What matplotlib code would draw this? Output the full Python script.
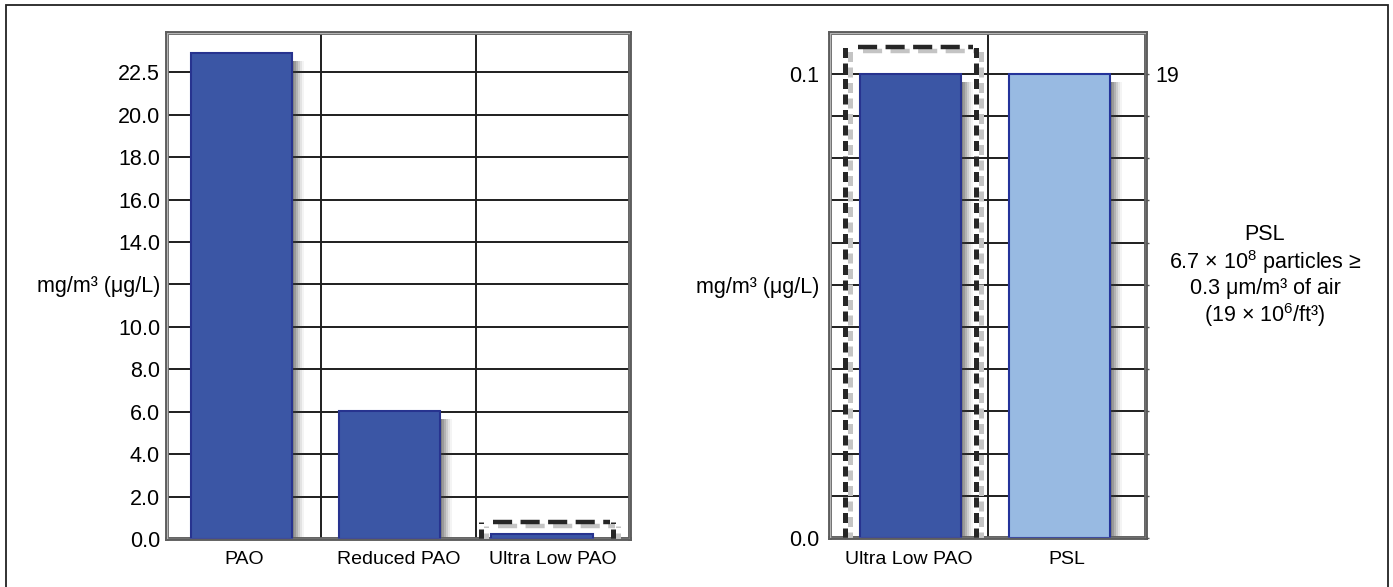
import numpy as np
import matplotlib
matplotlib.use("Agg")
import matplotlib.pyplot as plt
from matplotlib.transforms import offset_copy
from matplotlib.patches import Rectangle
from matplotlib.ticker import FixedLocator

plt.rcParams['font.family'] = ['Liberation Sans', 'DejaVu Sans']
plt.rcParams['mathtext.fontset'] = 'custom'
plt.rcParams['mathtext.rm'] = 'Liberation Sans'
plt.rcParams['mathtext.it'] = 'Liberation Sans:italic'
plt.rcParams['mathtext.bf'] = 'Liberation Sans:bold'

# ---------------- data ----------------
left_categories = ["PAO", "Reduced PAO", "Ultra Low PAO"]
left_values = [22.9, 6.05, 0.25]
left_tick_values = [0, 2, 4, 6, 8, 10, 12, 14, 16, 18, 20, 22]
left_tick_labels = ["0.0", "2.0", "4.0", "6.0", "8.0", "10.0", "mg/m³ (μg/L)",
                    "14.0", "16.0", "18.0", "20.0", "22.5"]

right_categories = ["Ultra Low PAO", "PSL"]
right_values = [0.1, 0.1]
right_tick_labels = ["0.0", "", "", "", "", "", "mg/m³ (μg/L)", "", "", "", "", "0.1"]
right_secondary_label = "19"

psl_note = ["PSL",
            "6.7 × 10$^{8}$ particles ≥",
            "0.3 μm/m³ of air",
            "(19 × 10$^{6}$/ft³)"]

# ---------------- style ----------------
W, H = 1393, 587
dark_blue = "#3b56a5"
dark_edge = "#27338f"
light_blue = "#98bae2"
light_edge = "#24339a"
grid_col = "#1e1e1e"
spine_col = "#5e5e5e"

fig = plt.figure(figsize=(W / 100, H / 100), dpi=100)
fig.patch.set_facecolor("white")

# outer border
fig.add_artist(Rectangle((6 / W, -0.02), (1388 - 6) / W, 1 - 5 / H + 0.02,
                         transform=fig.transFigure, fill=False,
                         edgecolor="#222222", linewidth=1.3))


def draw_shadow(ax, x, h, width):
    for dx, a in [(2, 0.22), (4, 0.20), (6, 0.17), (8, 0.13), (10, 0.09), (12, 0.05)]:
        tr = offset_copy(ax.transData, fig=fig, x=dx, y=-8, units="dots")
        ax.bar(x, h, width=width, color="#3a3a3a", alpha=a, linewidth=0,
               transform=tr, zorder=2.5)


def dashed_box(ax, xc, half, top):
    xs = [xc - half, xc + half]
    for dxo, dyo, col in [(5, -4, "#c4c4c4"), (0, 0, "#262626")]:
        tr = offset_copy(ax.transData, fig=fig, x=dxo, y=dyo, units="dots")
        for xv in xs:
            ax.plot([xv, xv], [0, top], color=col, lw=3.6, dashes=(2.0, 1.1),
                    transform=tr, zorder=4, dash_capstyle="butt")
        ax.plot([xs[0] + 0.08, xs[1] - 0.02], [top, top], color=col, lw=3.2,
                dashes=(4.3, 1.9), transform=tr, zorder=4,
                dash_capstyle="butt")


def style_axes(ax, ncat):
    ax.set_xlim(-0.5, ncat - 0.5)
    ax.set_axisbelow(True)
    ax.xaxis.set_minor_locator(FixedLocator(np.arange(ncat - 1) + 0.5))
    ax.grid(True, which="major", axis="y", color=grid_col, lw=1.4)
    ax.grid(True, which="minor", axis="x", color=grid_col, lw=1.4)
    ax.tick_params(axis="both", which="both", length=0)
    for s in ax.spines.values():
        s.set_color(spine_col)
        s.set_linewidth(2.8)
    # lighter inner frame line
    ax.add_patch(Rectangle((0, 0), 1, 1, transform=ax.transAxes, fill=False,
                           edgecolor="#b5b5b5", lw=1.0, zorder=5))


# ---------------- left chart ----------------
ax1 = fig.add_axes([167 / W, (H - 539) / H, (630 - 167) / W, (539 - 33) / H])
style_axes(ax1, len(left_categories))
ax1.set_ylim(0, 23.85)
bw1 = 0.655
x1 = np.arange(len(left_categories)) + np.array([-0.02, -0.06, -0.07])
draw_shadow(ax1, x1, left_values, bw1)
ax1.bar(x1, left_values, width=bw1, color=dark_blue, edgecolor=dark_edge,
        linewidth=1.5, zorder=3)
ax1.set_yticks(left_tick_values)
ax1.set_yticklabels(left_tick_labels, fontsize=15.5)
ax1.set_xticks(np.arange(len(left_categories)))
ax1.set_xticklabels(left_categories, fontsize=14)
ax1.tick_params(axis="y", pad=5)
ax1.tick_params(axis="x", pad=9)
dashed_box(ax1, x1[2] + 0.03, 0.428, left_values[2] + 0.55)

# ---------------- right chart ----------------
ax2 = fig.add_axes([830 / W, (H - 538) / H, (1146 - 830) / W, (538 - 33) / H])
style_axes(ax2, len(right_categories))
ax2.set_ylim(0, 0.1088)
bw2 = 0.64
x2 = np.arange(len(right_categories)) + np.array([0.01, -0.05])
draw_shadow(ax2, x2, right_values, bw2)
ax2.bar(x2, right_values, width=bw2, color=[dark_blue, light_blue],
        edgecolor=[dark_edge, light_edge], linewidth=1.5, zorder=3)
ax2.set_yticks(np.linspace(0, right_values[0], len(right_tick_labels)))
ax2.set_yticklabels(right_tick_labels, fontsize=15.5)
ax2.set_xticks(np.arange(len(right_categories)))
ax2.set_xticklabels(right_categories, fontsize=14)
ax2.tick_params(axis="y", pad=8)
ax2.tick_params(axis="x", pad=9)
dashed_box(ax2, x2[0], 0.4125, right_values[0] + 0.0058)

ax2r = ax2.twinx()
ax2r.set_ylim(ax2.get_ylim())
ax2r.set_yticks(np.linspace(0, right_values[0], len(right_tick_labels)))
ax2r.set_yticklabels([""] * (len(right_tick_labels) - 1) + [right_secondary_label],
                     fontsize=15.5)
ax2r.tick_params(axis="y", length=2, width=1, color="#555555", pad=5)
for s in ax2r.spines.values():
    s.set_visible(False)

# ---------------- PSL note ----------------
for i, line in enumerate(psl_note):
    fig.text(1265 / W, (H - 235 - 26.7 * i) / H, line, ha="center",
             va="center", fontsize=15.5)

fig.savefig("out.png", dpi=100, facecolor="white")
